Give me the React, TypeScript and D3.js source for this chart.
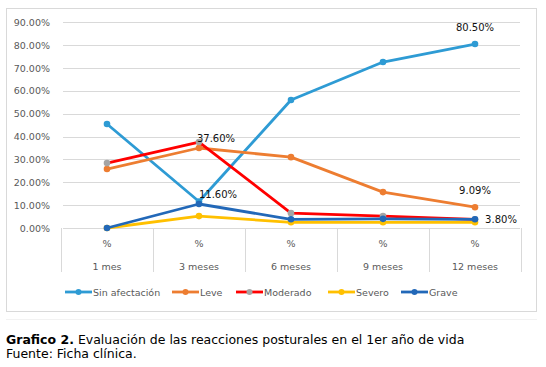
import React, { useRef, useEffect } from "react";
import * as d3 from "d3";

const categories = ["1 mes", "3 meses", "6 meses", "9 meses", "12 meses"];
const yTicks = [0, 10, 20, 30, 40, 50, 60, 70, 80, 90];

const sinAfectacion = [45.5, 11.6, 56.0, 72.6, 80.5];
const leve = [25.8, 35.0, 31.0, 15.7, 9.09];
const moderado = [28.4, 37.6, 6.5, 5.2, 3.8];
const severo = [0, 5.2, 2.5, 2.5, 2.5];
const grave = [0, 10.5, 3.8, 4.0, 3.8];

const seriesNames = ["Sin afectación", "Leve", "Moderado", "Severo", "Grave"];
const seriesData = [sinAfectacion, leve, moderado, severo, grave];
const lineColors = ["#2e9bd4", "#ed7d31", "#ff0000", "#ffc000", "#2268b8"];
const markerColors = ["#2e9bd4", "#ed7d31", "#a5a5a5", "#ffc000", "#2268b8"];

// etiquetas de datos: [serie, categoría, dx, dy]
const dataLabels: [number, number, number, number][] = [
  [0, 4, 0, -13],
  [2, 1, 17, 0],
  [0, 1, 19, -3],
  [1, 4, 0, -13],
  [4, 4, 26, 4],
];

const App: React.FC = () => {
  const svgRef = useRef<SVGSVGElement | null>(null);

  useEffect(() => {
    if (!svgRef.current) return;
    const svg = d3.select(svgRef.current);
    svg.selectAll("*").remove();

    const font = "DejaVu Sans, Verdana, sans-serif";
    const left = 61;
    const right = 521;
    const top = 22.3;
    const bottom = 228;

    // marco del gráfico
    svg
      .append("rect")
      .attr("x", 6.5)
      .attr("y", 8.5)
      .attr("width", 530)
      .attr("height", 303)
      .attr("fill", "white")
      .attr("stroke", "#d9d9d9");

    const x = d3.scaleBand<string>().domain(categories).range([left, right]);
    const y = d3.scaleLinear().domain([0, 90]).range([bottom, top]);

    // rejilla
    svg
      .append("g")
      .selectAll("line")
      .data(yTicks)
      .enter()
      .append("line")
      .attr("x1", left + 2)
      .attr("x2", right - 1)
      .attr("y1", (d) => Math.round(y(d)) + 0.5)
      .attr("y2", (d) => Math.round(y(d)) + 0.5)
      .attr("stroke", "#d9d9d9");

    svg
      .append("g")
      .selectAll("text")
      .data(yTicks)
      .enter()
      .append("text")
      .attr("x", 50)
      .attr("y", (d) => y(d) + 3.5)
      .attr("text-anchor", "end")
      .attr("font-family", font)
      .attr("font-size", "9.5px")
      .attr("fill", "#595959")
      .text((d) => d.toFixed(2) + "%");

    // separadores de categoría
    const edges = categories.map((c) => x(c) as number).concat([right]);
    svg
      .append("g")
      .selectAll("line")
      .data(edges)
      .enter()
      .append("line")
      .attr("x1", (d) => Math.round(d) + 0.5)
      .attr("x2", (d) => Math.round(d) + 0.5)
      .attr("y1", bottom)
      .attr("y2", 272)
      .attr("stroke", "#d9d9d9");

    const cx = (c: string) => (x(c) as number) + x.bandwidth() / 2;

    const xl = svg.append("g");
    categories.forEach((c) => {
      xl.append("text")
        .attr("x", cx(c))
        .attr("y", 246.5)
        .attr("text-anchor", "middle")
        .attr("font-family", font)
        .attr("font-size", "9.5px")
        .attr("fill", "#595959")
        .text("%");
      xl.append("text")
        .attr("x", cx(c))
        .attr("y", 269.5)
        .attr("text-anchor", "middle")
        .attr("font-family", font)
        .attr("font-size", "9.5px")
        .attr("fill", "#595959")
        .text(c);
    });

    const line = d3
      .line<number>()
      .x((_, i) => cx(categories[i]))
      .y((d) => y(d));

    seriesData.forEach((data, s) => {
      const g = svg.append("g");
      g.append("path")
        .datum(data)
        .attr("fill", "none")
        .attr("stroke", lineColors[s])
        .attr("stroke-width", 2.8)
        .attr("stroke-linejoin", "round")
        .attr("d", line);
      g.selectAll("circle")
        .data(data)
        .enter()
        .append("circle")
        .attr("cx", (_, i) => cx(categories[i]))
        .attr("cy", (d) => y(d))
        .attr("r", 3.3)
        .attr("fill", markerColors[s]);
    });

    dataLabels.forEach(([s, i, dx, dy]) => {
      const v = seriesData[s][i];
      svg
        .append("text")
        .attr("x", cx(categories[i]) + dx)
        .attr("y", y(v) + dy)
        .attr("text-anchor", "middle")
        .attr("font-family", font)
        .attr("font-size", "10px")
        .attr("fill", "#111")
        .text(v.toFixed(2) + "%");
    });

    // leyenda
    const legendX = [65, 172, 236, 328, 401];
    const legend = svg.append("g");
    seriesNames.forEach((name, s) => {
      const lx = legendX[s];
      legend
        .append("line")
        .attr("x1", lx)
        .attr("x2", lx + 27)
        .attr("y1", 292)
        .attr("y2", 292)
        .attr("stroke", lineColors[s])
        .attr("stroke-width", 2.8);
      legend
        .append("circle")
        .attr("cx", lx + 13.5)
        .attr("cy", 292)
        .attr("r", 3)
        .attr("fill", markerColors[s]);
      legend
        .append("text")
        .attr("x", lx + 28)
        .attr("y", 295.5)
        .attr("font-family", font)
        .attr("font-size", "9.5px")
        .attr("fill", "#595959")
        .text(name);
    });

    svg
      .append("line")
      .attr("x1", 6)
      .attr("x2", 537)
      .attr("y1", 319.5)
      .attr("y2", 319.5)
      .attr("stroke", "#f2f2f2");

    // pie de figura
    const cap = svg
      .append("text")
      .attr("x", 6)
      .attr("y", 343.5)
      .attr("font-family", font)
      .attr("font-size", "12.5px")
      .attr("fill", "#000");
    cap.append("tspan").attr("font-weight", "bold").text("Grafico 2.");
    cap.append("tspan").text(" Evaluación de las reacciones posturales en el 1er año de vida");
    svg
      .append("text")
      .attr("x", 6)
      .attr("y", 358)
      .attr("font-family", font)
      .attr("font-size", "12.5px")
      .attr("fill", "#000")
      .text("Fuente: Ficha clínica.");
  }, []);

  return (
    <svg
      ref={svgRef}
      width={546}
      height={367}
      style={{ position: "absolute", left: 0, top: 0, background: "white" }}
    ></svg>
  );
};

export default App;
